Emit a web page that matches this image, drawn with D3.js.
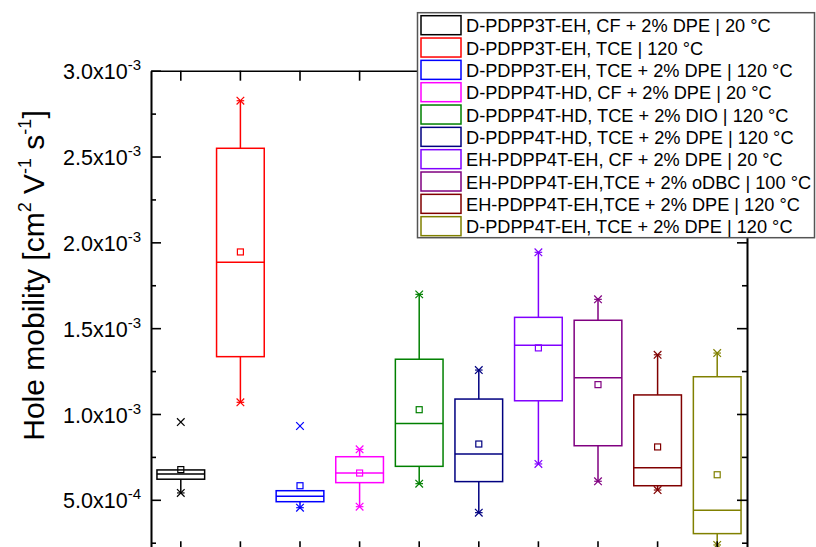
<!DOCTYPE html>
<html><head><meta charset="utf-8">
<script src="https://cdn.jsdelivr.net/npm/d3@7"></script>
<style>
html,body{margin:0;padding:0;background:#fff;}
svg{display:block;font-family:"Liberation Sans",Arial,sans-serif;}
</style></head>
<body>
<svg id="chart" width="816" height="547"></svg>
<script>
const categories = [
  "D-PDPP3T-EH, CF + 2% DPE | 20 °C",
  "D-PDPP3T-EH, TCE | 120 °C",
  "D-PDPP3T-EH, TCE + 2% DPE | 120 °C",
  "D-PDPP4T-HD, CF + 2% DPE | 20 °C",
  "D-PDPP4T-HD, TCE + 2% DIO | 120 °C",
  "D-PDPP4T-HD, TCE + 2% DPE | 120 °C",
  "EH-PDPP4T-EH, CF + 2% DPE | 20 °C",
  "EH-PDPP4T-EH,TCE + 2% oDBC | 100 °C",
  "EH-PDPP4T-EH,TCE + 2% DPE | 120 °C",
  "D-PDPP4T-EH, TCE + 2% DPE | 120 °C"
];
const colors = ["#000000","#FF0000","#0000FF","#FF00FF","#008000","#000080","#8000FF","#800080","#800000","#808000"];

// values in cm² V⁻¹ s⁻¹
const q1        = [6.20e-4, 1.334e-3, 4.89e-4, 6.00e-4, 6.95e-4, 6.06e-4, 1.077e-3, 8.15e-4, 5.82e-4, 3.03e-4];
const median    = [6.50e-4, 1.884e-3, 5.21e-4, 6.56e-4, 9.44e-4, 7.67e-4, 1.400e-3, 1.211e-3, 6.87e-4, 4.39e-4];
const q3        = [6.74e-4, 2.548e-3, 5.53e-4, 7.51e-4, 1.319e-3, 1.087e-3, 1.563e-3, 1.546e-3, 1.111e-3, 1.217e-3];
const mean      = [6.76e-4, 1.944e-3, 5.82e-4, 6.56e-4, 1.025e-3, 8.25e-4, 1.385e-3, 1.171e-3, 8.08e-4, 6.46e-4];
const minV      = [5.40e-4, 1.068e-3, 4.54e-4, 4.60e-4, 5.94e-4, 4.25e-4, 7.09e-4, 6.08e-4, 5.57e-4, 2.37e-4];
const maxV      = [9.53e-4, 2.825e-3, 9.30e-4, 7.94e-4, 1.697e-3, 1.256e-3, 1.942e-3, 1.668e-3, 1.345e-3, 1.355e-3];
const whiskerLo = [5.40e-4, 1.068e-3, 4.54e-4, 4.60e-4, 5.94e-4, 4.25e-4, 7.09e-4, 6.08e-4, 5.57e-4, 2.37e-4];
const whiskerHi = [6.74e-4, 2.825e-3, 5.53e-4, 7.94e-4, 1.697e-3, 1.256e-3, 1.942e-3, 1.668e-3, 1.345e-3, 1.355e-3];

const yMajorTicks = [5e-4, 1.0e-3, 1.5e-3, 2.0e-3, 2.5e-3, 3.0e-3];
const yMajorMantissa = ["5.0","1.0","1.5","2.0","2.5","3.0"];
const yMajorExponent = ["-4","-3","-3","-3","-3","-3"];
const yMinorTicks = [2.5e-4, 7.5e-4, 1.25e-3, 1.75e-3, 2.25e-3, 2.75e-3];
const yDomain = [2.0e-4, 3.0e-3];

const svg = d3.select("#chart");
const L = 151, R = 747, T = 70.7, B = 551.3;

const x = d3.scaleBand().domain(d3.range(categories.length)).range([L, R]).paddingInner(0.2).paddingOuter(0.1);
const y = d3.scaleLinear().domain(yDomain).range([B, T]);
const cx = i => x(i) + x.bandwidth() / 2;

// plot elements
const g = svg.append("g");
categories.forEach((c, i) => {
  const col = colors[i];
  const gi = g.append("g").attr("stroke", col).attr("fill", "none").attr("stroke-width", 1.5);
  if (whiskerHi[i] > q3[i]) {
    gi.append("line").attr("x1", cx(i)).attr("x2", cx(i)).attr("y1", y(q3[i])).attr("y2", y(whiskerHi[i]));
  }
  if (whiskerLo[i] < q1[i]) {
    gi.append("line").attr("x1", cx(i)).attr("x2", cx(i)).attr("y1", y(q1[i])).attr("y2", y(whiskerLo[i]));
  }
  gi.append("rect").attr("x", x(i)).attr("width", x.bandwidth())
    .attr("y", y(q3[i])).attr("height", y(q1[i]) - y(q3[i]));
  gi.append("line").attr("x1", x(i)).attr("x2", x(i) + x.bandwidth())
    .attr("y1", y(median[i])).attr("y2", y(median[i]));
  gi.append("rect").attr("x", cx(i) - 3).attr("y", y(mean[i]) - 3).attr("width", 6).attr("height", 6)
    .attr("stroke-width", 1.2);
  [[minV[i], whiskerLo[i]], [maxV[i], whiskerHi[i]]].forEach(([v, w]) => {
    const yy = y(v), s = 3.8;
    const m = gi.append("g").attr("stroke-width", 1.2);
    m.append("line").attr("x1", cx(i) - s).attr("x2", cx(i) + s).attr("y1", yy - s).attr("y2", yy + s);
    m.append("line").attr("x1", cx(i) - s).attr("x2", cx(i) + s).attr("y1", yy + s).attr("y2", yy - s);
    if (v === w) {
      m.append("line").attr("x1", cx(i) - s).attr("x2", cx(i) + s).attr("y1", yy).attr("y2", yy);
    }
  });
});

function styleAxis(sel) {
  sel.selectAll("path").attr("stroke", "#000").attr("stroke-width", 1.6);
  sel.selectAll("line").attr("stroke", "#000").attr("stroke-width", 1.6);
}
const leftAx = svg.append("g").attr("transform", `translate(${L},0)`)
  .call(d3.axisLeft(y).tickValues(yMajorTicks).tickSizeInner(-10).tickSizeOuter(0))
  .attr("font-size", null).attr("font-family", null);
styleAxis(leftAx);
leftAx.selectAll(".tick text").each(function(d, i) {
  const t = d3.select(this);
  t.text(null).style("font-size", "21.5px").attr("fill", "#000").attr("x", -10).attr("dy", "0.38em")
    .style("font-family", "'Liberation Sans',Arial,sans-serif");
  t.append("tspan").text(yMajorMantissa[i] + "x10");
  t.append("tspan").text(yMajorExponent[i]).style("font-size", "15px").attr("dy", "-0.6em");
});
svg.append("g").attr("transform", `translate(${L},0)`)
  .call(d3.axisLeft(y).tickValues(yMinorTicks).tickSizeInner(-5).tickSizeOuter(0).tickFormat(""))
  .call(styleAxis);

svg.append("g").attr("transform", `translate(${R},0)`)
  .call(d3.axisRight(y).tickValues(yMajorTicks).tickSizeInner(-10).tickSizeOuter(0).tickFormat(""))
  .call(styleAxis);
svg.append("g").attr("transform", `translate(${R},0)`)
  .call(d3.axisRight(y).tickValues(yMinorTicks).tickSizeInner(-5).tickSizeOuter(0).tickFormat(""))
  .call(styleAxis);

svg.append("g").attr("transform", `translate(0,${T})`)
  .call(d3.axisTop(x).tickSizeInner(-10).tickSizeOuter(0).tickFormat(""))
  .call(styleAxis);
svg.append("g").attr("transform", `translate(0,${B})`)
  .call(d3.axisBottom(x).tickSizeInner(-10).tickSizeOuter(0).tickFormat(""))
  .call(styleAxis);

// y title
const title = svg.append("text").attr("transform", `translate(44,${(101 + 450) / 2}) rotate(-90)`)
  .attr("text-anchor", "middle").attr("font-size", 30).attr("fill", "#000");
title.append("tspan").text("Hole mobility [cm");
title.append("tspan").text("2").attr("font-size", 18).attr("dy", -13.5);
title.append("tspan").text(" V").attr("dy", 13.5);
title.append("tspan").text("-1").attr("font-size", 18).attr("dy", -13.5);
title.append("tspan").text(" s").attr("dy", 13.5);
title.append("tspan").text("-1").attr("font-size", 18).attr("dy", -13.5);
title.append("tspan").text("]").attr("dy", 13.5);

// legend
const lg = svg.append("g");
lg.append("rect").attr("x", 417.5).attr("y", 12.7).attr("width", 397).attr("height", 225)
  .attr("fill", "#fff").attr("stroke", "#555").attr("stroke-width", 1.5);
const rowH = 22.33;
categories.forEach((c, i) => {
  const top = 15.7 + i * rowH;
  lg.append("rect").attr("x", 421).attr("y", top).attr("width", 40).attr("height", 19)
    .attr("fill", "#fff").attr("stroke", colors[i]).attr("stroke-width", 1.5);
  lg.append("text").attr("x", 466).attr("y", top + 16.6).attr("font-size", 18.2).attr("fill", "#000").text(c);
});
</script>
</body></html>
